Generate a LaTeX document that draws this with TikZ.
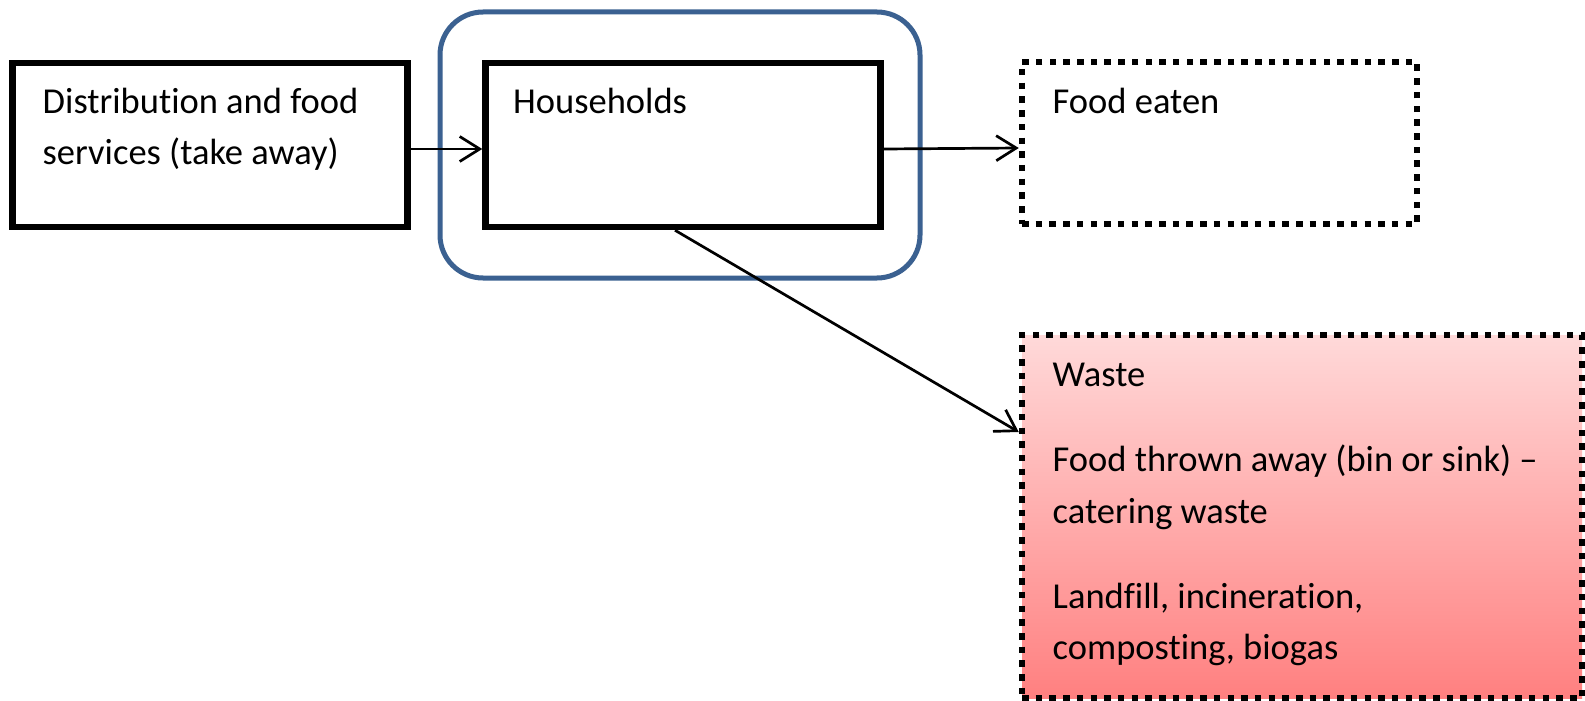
\documentclass[tikz,border=0pt]{standalone}
\usepackage{fontspec}
\setmainfont{Carlito}[Ligatures={NoCommon}]
\usetikzlibrary{arrows.meta}
\definecolor{frameblue}{RGB}{59,97,145}
\definecolor{wastetop}{RGB}{255,217,217}
\definecolor{wastebot}{RGB}{255,128,128}
\begin{document}
\begin{tikzpicture}[x=1pt,y=-1pt,
  solidbox/.style={draw=black, line width=6.5pt, rectangle, inner sep=0pt,
    minimum width=395pt, minimum height=164pt},
  dotbox/.style={draw=black, line width=6.5pt, rectangle, inner sep=0pt,
    dash pattern=on 6.5pt off 7.2pt},
  groupbox/.style={draw=frameblue, line width=5pt, rectangle, rounded corners=43pt,
    inner sep=0pt, minimum width=480pt, minimum height=266pt},
  lbl/.style={anchor=base west, inner sep=0pt, font=\fontsize{36.5}{51}\selectfont},
  arr/.style={draw=black, line width=2.7pt,
    -{Straight Barb[length=20pt, width=25pt, line width=2.7pt]}}
]
\useasboundingbox (0,0) rectangle (1585,701);
\fill[white] (0,0) rectangle (1585,701);

\node[groupbox] (grp) at (680,145) {};
\node[solidbox] (dist) at (210,145) {};
\node[solidbox] (hh) at (683,145) {};
\node[dotbox, minimum width=395pt, minimum height=162pt] (eat) at (1219.5,143) {};
\node[dotbox, minimum width=560pt, minimum height=363pt,
      top color=wastetop, bottom color=wastebot] (waste) at (1302,516.5) {};

\node[lbl] (t1) at (42.5,113) {Distribution and food};
\node[lbl] (t2) at (42.5,164) {services (take away)};
\node[lbl] (t3) at (513,113) {Households};
\node[lbl] (t4) at (1052.5,113) {Food eaten};
\node[lbl] (t5) at (1052.5,386) {Waste};
\node[lbl] (t6) at (1052.5,471) {Food thrown away (bin or sink) –};
\node[lbl] (t7) at (1052.5,523) {catering waste};
\node[lbl] (t8) at (1052.5,608) {Landfill, incineration,};
\node[lbl] (t9) at (1052.5,659) {composting, biogas};

\draw[arr] ([yshift=-4pt]dist.east) -- ([yshift=-4pt]hh.west);
\draw[arr] ([yshift=-4pt]hh.east) -- ([yshift=-5pt]eat.west);
\draw[arr] ([xshift=-8pt]hh.south) -- ([yshift=84.5pt]waste.west);
\end{tikzpicture}
\end{document}
